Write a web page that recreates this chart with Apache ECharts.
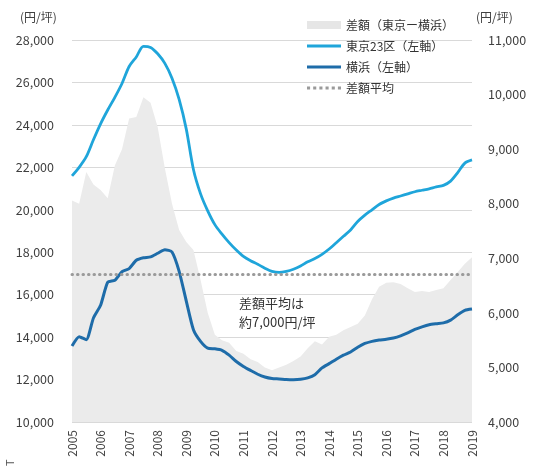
<!DOCTYPE html>
<html>
<head>
<meta charset="utf-8">
<script src="https://cdn.jsdelivr.net/npm/echarts@6/dist/echarts.min.js"></script>
<style>
  html, body { margin: 0; padding: 0; background: #fff; }
  #chart { width: 550px; height: 466px; }
</style>
</head>
<body>
<div id="chart"></div>
<script>
// quarterly points, 2005/1 .. 2019/1
const quarters = [
    '2005/1','2005/4','2005/7','2005/10','2006/1','2006/4','2006/7','2006/10',
    '2007/1','2007/4','2007/7','2007/10','2008/1','2008/4','2008/7','2008/10',
    '2009/1','2009/4','2009/7','2009/10','2010/1','2010/4','2010/7','2010/10',
    '2011/1','2011/4','2011/7','2011/10','2012/1','2012/4','2012/7','2012/10',
    '2013/1','2013/4','2013/7','2013/10','2014/1','2014/4','2014/7','2014/10',
    '2015/1','2015/4','2015/7','2015/10','2016/1','2016/4','2016/7','2016/10',
    '2017/1','2017/4','2017/7','2017/10','2018/1','2018/4','2018/7','2018/10',
    '2019/1'
];

// 東京23区 (left axis, 円/坪)
const tokyo = [
    21600, 22000, 22500, 23300, 24050, 24700, 25300, 25950,
    26750, 27200, 27700, 27650, 27350, 26900, 26200, 25200,
    23800, 21900, 20750, 19950, 19300, 18850, 18450, 18100,
    17800, 17600, 17430, 17250, 17100, 17050, 17100, 17200,
    17350, 17550, 17700, 17900, 18150, 18450, 18750, 19050,
    19450, 19750, 20000, 20250, 20420, 20550, 20650, 20750,
    20850, 20920, 20990, 21080, 21150, 21350, 21750, 22200,
    22350
];

// 横浜 (left axis)
const yokohama = [
    13580, 14020, 13880, 14900, 15500, 16580, 16680, 17080,
    17230, 17620, 17740, 17780, 17950, 18120, 18010, 17100,
    15700, 14350, 13800, 13480, 13450, 13380, 13150, 12850,
    12620, 12430, 12250, 12120, 12050, 12030, 12000, 11990,
    12010, 12080, 12230, 12550, 12750, 12960, 13150, 13300,
    13520, 13700, 13800, 13860, 13900, 13960, 14060, 14200,
    14360, 14480, 14580, 14630, 14670, 14800, 15050, 15260,
    15320
];

// 差額 (right axis)
const diff = [
    8060, 8000, 8580, 8350, 8250, 8100, 8700, 9000,
    9560, 9590, 9950, 9850, 9400, 8650, 8000, 7520,
    7300, 7150, 6600, 6000, 5600, 5500, 5450, 5300,
    5250, 5150, 5100, 5000, 4950, 5000, 5050, 5120,
    5200, 5350, 5480, 5420, 5560, 5600, 5680, 5740,
    5800, 5950, 6250, 6480, 6550, 6560, 6530, 6450,
    6380, 6400, 6380, 6420, 6450, 6600, 6750, 6900,
    7020
];

const diffAvg = 6700;

const font = "'Noto Sans CJK JP', 'Noto Sans', sans-serif";
const textColor = '#404040';
const lightBlue = '#1fa5da';
const darkBlue = '#1e6ca9';
const dotGrey = '#9a9a9a';

const chart = echarts.init(document.getElementById('chart'));

const option = {
    animation: false,
    textStyle: { fontFamily: font },
    grid: { left: 72, right: 78, top: 40, bottom: 44 },
    legend: {
        orient: 'vertical',
        left: 307,
        top: 19,
        padding: 0,
        itemWidth: 34,
        itemHeight: 14,
        itemGap: 9,
        textStyle: { fontSize: 12, color: '#333', fontFamily: font },
        data: [
            { name: '差額（東京ー横浜）', icon: 'path://M0,0h34v8h-34z', itemStyle: { color: '#e6e6e6' } },
            { name: '東京23区（左軸）', icon: 'path://M0,0h34v3h-34z', itemStyle: { color: lightBlue } },
            { name: '横浜（左軸）', icon: 'path://M0,0h34v3h-34z', itemStyle: { color: darkBlue } },
            { name: '差額平均', icon: 'path://M0,0h3v3h-3zM6,0h3v3h-3zM12,0h3v3h-3zM18,0h3v3h-3zM24,0h3v3h-3zM30,0h3v3h-3z', itemStyle: { color: dotGrey } }
        ]
    },
    xAxis: {
        type: 'category',
        data: quarters,
        boundaryGap: false,
        axisLine: { show: false },
        axisTick: { show: false },
        axisLabel: {
            interval: 3,
            rotate: 90,
            margin: 8,
            fontSize: 12,
            color: textColor,
            formatter: v => v.split('/')[0]
        }
    },
    yAxis: [
        {
            type: 'value',
            min: 10000, max: 28000, interval: 2000,
            axisLine: { show: false },
            axisTick: { show: false },
            splitLine: { lineStyle: { color: '#d9d9d9' } },
            axisLabel: {
                margin: 18, fontSize: 12.5, color: textColor,
                formatter: v => v.toLocaleString('en-US')
            }
        },
        {
            type: 'value',
            min: 4000, max: 11000, interval: 1000,
            axisLine: { show: false },
            axisTick: { show: false },
            splitLine: { show: false },
            axisLabel: {
                margin: 16, fontSize: 12.5, color: textColor,
                formatter: v => v.toLocaleString('en-US')
            }
        }
    ],
    series: [
        {
            name: '差額（東京ー横浜）',
            type: 'line',
            yAxisIndex: 1,
            data: diff,
            symbol: 'none',
            lineStyle: { width: 0 },
            itemStyle: { color: '#e6e6e6' },
            areaStyle: { color: '#ebebeb', opacity: 1 }
        },
        {
            name: '差額平均',
            type: 'line',
            yAxisIndex: 1,
            data: [],
            symbol: 'none',
            itemStyle: { color: dotGrey },
            lineStyle: { color: dotGrey, width: 3, type: [0.5, 5], cap: 'round' },
            markLine: {
                silent: true,
                symbol: 'none',
                label: { show: false },
                lineStyle: { color: dotGrey, width: 3, type: [0.5, 5], cap: 'round' },
                data: [{ yAxis: diffAvg }]
            }
        },
        {
            name: '東京23区（左軸）',
            type: 'line',
            data: tokyo,
            symbol: 'none',
            smooth: 0.3,
            itemStyle: { color: lightBlue },
            lineStyle: { color: lightBlue, width: 2.8 }
        },
        {
            name: '横浜（左軸）',
            type: 'line',
            data: yokohama,
            symbol: 'none',
            smooth: 0.2,
            itemStyle: { color: darkBlue },
            lineStyle: { color: darkBlue, width: 3 }
        }
    ],
    graphic: [
        { type: 'text', left: 20, top: 11, style: { text: '(円/坪)', fontSize: 12, fill: textColor, fontFamily: font } },
        { type: 'text', left: 476, top: 11, style: { text: '(円/坪)', fontSize: 12, fill: textColor, fontFamily: font } },
        {
            type: 'text', left: 239, top: 294,
            style: { text: '差額平均は\n約7,000円/坪', fontSize: 13, lineHeight: 19, fill: '#333', fontFamily: font }
        },
        { type: 'text', x: 4, y: 466, rotation: Math.PI / 2, style: { text: 'T', fontSize: 11, fill: '#555', fontFamily: font } }
    ]
};

chart.setOption(option);
</script>
</body>
</html>
